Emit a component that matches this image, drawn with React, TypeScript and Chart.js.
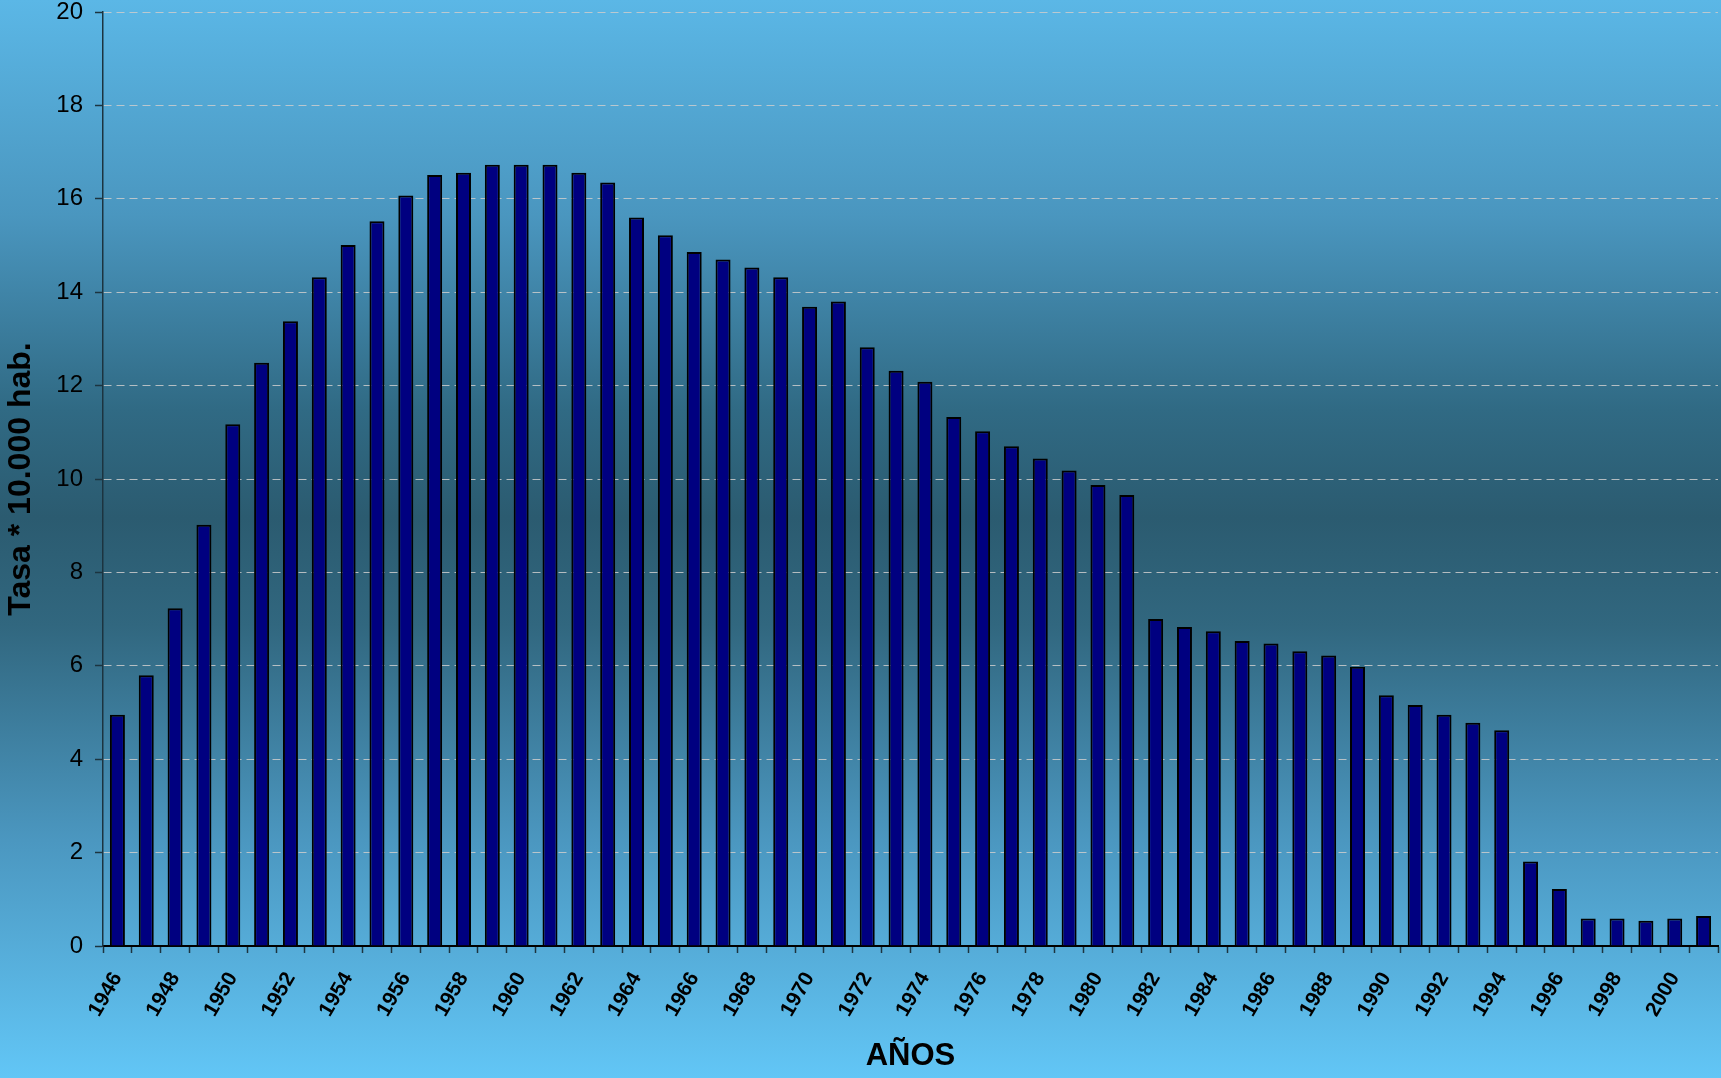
import React, { useEffect, useRef } from "react";
import { Chart, registerables } from "chart.js";

Chart.register(...registerables);

const years: string[] = [
  "1946","1947","1948","1949","1950","1951","1952","1953","1954","1955",
  "1956","1957","1958","1959","1960","1961","1962","1963","1964","1965",
  "1966","1967","1968","1969","1970","1971","1972","1973","1974","1975",
  "1976","1977","1978","1979","1980","1981","1982","1983","1984","1985",
  "1986","1987","1988","1989","1990","1991","1992","1993","1994","1995",
  "1996","1997","1998","1999","2000","2001",
];

const rates: number[] = [
  4.95, 5.8, 7.23, 9.02, 11.17, 12.49, 13.38, 14.32, 15.01, 15.52,
  16.07, 16.51, 16.56, 16.73, 16.73, 16.73, 16.56, 16.35, 15.6, 15.22,
  14.86, 14.7, 14.53, 14.32, 13.69, 13.8, 12.82, 12.32, 12.08, 11.33,
  11.02, 10.7, 10.44, 10.18, 9.87, 9.66, 7.0, 6.83, 6.74, 6.53,
  6.48, 6.31, 6.22, 5.98, 5.37, 5.16, 4.95, 4.78, 4.62, 1.81,
  1.22, 0.59, 0.59, 0.54, 0.59, 0.64,
];

const yTitle = "Tasa * 10.000 hab.";
const xTitle = "AÑOS";

const W = 1721;
const H = 1078;
const FONT = "'Liberation Sans', Arial, sans-serif";

export default function App() {
  const ref = useRef<HTMLCanvasElement | null>(null);

  useEffect(() => {
    if (!ref.current) return;
    const chart = new Chart(ref.current, {
      type: "bar",
      data: {
        labels: years,
        datasets: [
          {
            data: rates,
            backgroundColor: "#000080",
            borderColor: "#000000",
            borderWidth: 2,
            barPercentage: 0.52,
            categoryPercentage: 1,
          },
        ],
      },
      options: {
        responsive: false,
        animation: false,
        devicePixelRatio: 1,
        layout: { padding: { top: 12, right: 3, left: 0, bottom: 0 } },
        plugins: {
          legend: { display: false },
          tooltip: { enabled: false },
        },
        scales: {
          x: {
            type: "category",
            offset: true,
            grid: {
              offset: true,
              drawOnChartArea: false,
              drawTicks: true,
              tickLength: 7,
              tickColor: "#1c3440",
              tickWidth: 1.5,
            },
            border: { display: true, color: "#000000", width: 2 },
            ticks: {
              autoSkip: false,
              maxRotation: 60,
              minRotation: 60,
              padding: 15,
              color: "#000000",
              font: { family: FONT, size: 21, weight: "bold" },
              callback: (_v: any, i: number) => (i % 2 === 0 ? years[i] : ""),
            },
            title: {
              display: true,
              text: xTitle,
              color: "#000000",
              font: { family: FONT, size: 31, weight: "bold" },
              padding: { top: 0, bottom: 3 },
            },
            afterFit: (scale: any) => {
              scale.height = 132;
              scale.paddingLeft = 0;
              scale.paddingRight = 0;
            },
          },
          y: {
            min: 0,
            max: 20,
            ticks: {
              stepSize: 2,
              padding: 12,
              color: "#000000",
              font: { family: FONT, size: 24 },
            },
            grid: {
              color: "rgba(205,205,205,0.85)",
              lineWidth: 1,
              tickLength: 8,
              tickColor: "#1c3440",
              tickWidth: 1.5,
              tickBorderDash: [],
            },
            border: { display: true, color: "#1c3440", width: 1.5, dash: [8, 5] },
            title: {
              display: true,
              text: yTitle,
              color: "#000000",
              font: { family: FONT, size: 32, weight: "bold" },
              padding: { top: 2, bottom: 0 },
            },
            afterFit: (scale: any) => {
              scale.width = 103;
              scale.paddingTop = 0;
              scale.paddingBottom = 0;
            },
          },
        },
      },
    } as any);
    return () => chart.destroy();
  }, []);

  return (
    <div
      style={{
        position: "fixed",
        left: 0,
        top: 0,
        width: W,
        height: H,
        background:
          "linear-gradient(to bottom, #5bb7e6 0%, #4a96bf 20%, #306a84 38%, #2b5b70 48%, #31677f 58%, #4b97c0 78%, #62c6f6 100%)",
      }}
    >
      <canvas ref={ref} width={W} height={H} style={{ display: "block" }} />
    </div>
  );
}
